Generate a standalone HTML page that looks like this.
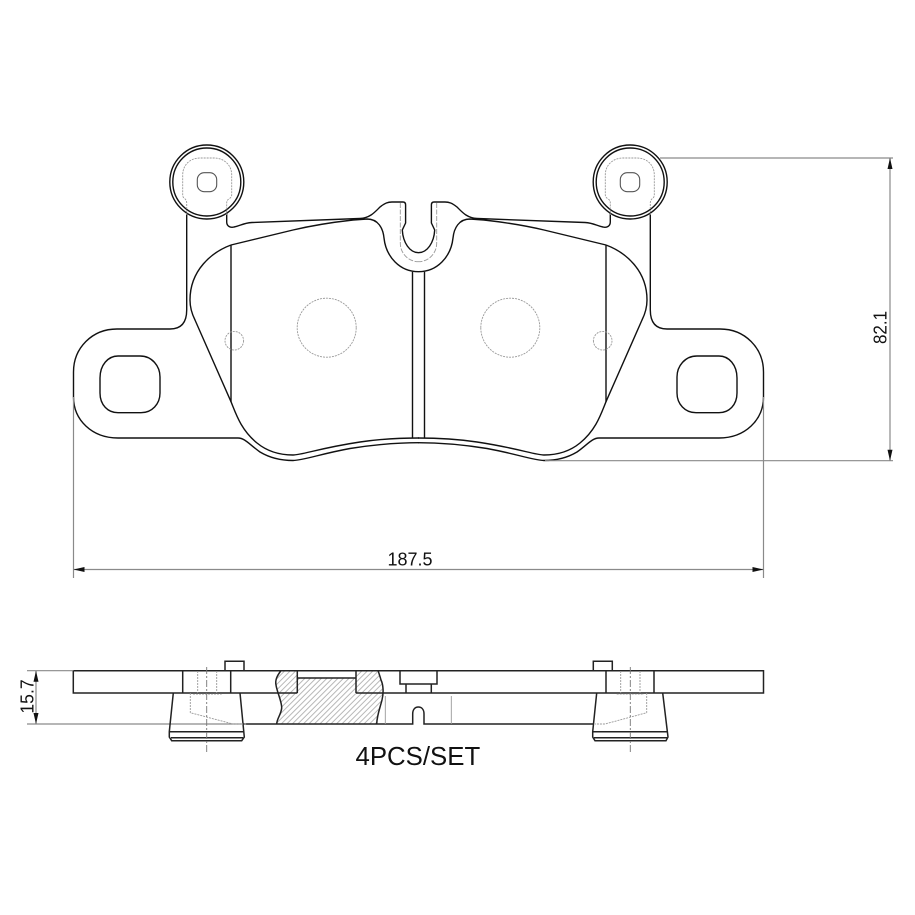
<!DOCTYPE html>
<html><head><meta charset="utf-8"><style>
html,body{margin:0;padding:0;background:#fff;width:915px;height:915px;overflow:hidden}
svg{display:block}
text{font-family:"Liberation Sans",sans-serif;fill:#111}
</style></head><body>
<svg width="915" height="915" viewBox="0 0 915 915" xmlns="http://www.w3.org/2000/svg">
<defs>
<pattern id="ht" width="3.9" height="3.9" patternUnits="userSpaceOnUse" patternTransform="rotate(45)"><line x1="1" y1="0" x2="1" y2="3.9" stroke="#a8a8a8" stroke-width="0.8"/></pattern>
<g id="half" fill="none">
<g stroke="#111" stroke-width="1.4">
<circle cx="206.8" cy="182" r="37"/>
<circle cx="206.8" cy="182" r="34"/>
<path d="M186.7 213V310Q186.7 329 170 329H117C92 329 73.5 348 73.5 372V397C73.5 420 92 438 118 438H238C245 438 250 445 260 452C270 458 282 460.5 293 460.5C305 460 320 454 350 448.5C375 444.5 400 442.7 419 442.7"/>
<path d="M231 245C212 252 190 270 190 300C190 308 192 314 195 320L231 401.7C236 414 241 430 257 443C268 452 280 455 293 455C302 455 320 448 360 442C380 439 400 438 419 438"/>
<path d="M231 245L293 230C310 226 335 222 353 220L367 219C378 219 383 228 384 238C386 257 400 271.7 418.5 271.7"/>
<path d="M226.7 213V222C226.7 226 230 228 234 227C240 226 243 223 252 222.5L360 218.5C370 218 375 212 380 207C385 203 388 202 392 202H403Q405.6 202 405.6 205V223L402.3 230C403 243 410 252.7 418.5 252.7"/>
<path d="M231 245V401.7"/>
<path d="M412.5 271.7V438"/>
<path d="M118 356H140C152 356 160 366 160 377V393C160 404 152 412.7 141 412.7H118C108 412.7 100 405 100 393V378C100 365 108 356 118 356Z"/>
</g>
<rect x="197.3" y="172.7" width="19.4" height="19" rx="7" stroke="#555" stroke-width="1.1"/>
<g stroke="#999" stroke-width="0.9" stroke-dasharray="2 1">
<path d="M186.7 215V203Q186.7 200 184 198Q182.7 197 182.7 195V175C182.7 165 190 158 200 158H214C224 158 231.7 165 231.7 175V195Q231.7 197 229 199Q226.7 200 226.7 203V215"/>
<circle cx="326.7" cy="327.7" r="29.5"/>
<circle cx="234.3" cy="340.7" r="9.3"/>
</g>
<path d="M400.3 203V243C400.3 254 409 261.7 418.5 261.7" stroke="#999" stroke-width="0.9" stroke-dasharray="5 1.5"/>
</g>
</defs>
<rect width="915" height="915" fill="#fff"/>
<use href="#half"/>
<use href="#half" transform="matrix(-1 0 0 1 837 0)"/>

<!-- dimensions -->
<g stroke="#8a8a8a" stroke-width="1.2" fill="none">
<path d="M660 158H893M545 460.7H893M890 158V460.7"/>
<path d="M73.5 397V578M763.5 397V578M73.5 569.5H763.5"/>
<path d="M27 670.7H73M27 724H245M36 670.7V724"/>
</g>
<g fill="#111">
<path d="M890 158l-2.5 11h5zM890 460.7l-2.5-11h5z"/>
<path d="M73.5 569.5l11-2.5v5zM763.5 569.5l-11-2.5v5z"/>
<path d="M36 670.7l-2.5 11h5zM36 724l-2.5-11h5z"/>
</g>
<text x="410" y="565.5" font-size="18" text-anchor="middle">187.5</text>
<text transform="translate(886.5 327.5) rotate(-90) scale(0.92 1)" font-size="18.5" text-anchor="middle">82.1</text>
<text transform="translate(33.5 696.5) rotate(-90) scale(0.95 1)" font-size="18.5" text-anchor="middle">15.7</text>
<text x="355.5" y="765" font-size="25.8">4PCS/SET</text>

<!-- side view -->
<path d="M280.7 671H297.3V678H356V671H378.3C379 674 380 676 381 680C383 684 384 692 382 700C380 708 377 715 376.7 724H276.7C277 718 281 715 281.7 708C282 702 277 692 276 685C275 680 277 676 280.7 671Z" fill="url(#ht)"/>
<g fill="none" stroke="#222" stroke-width="1.5">
<path d="M73.3 670.7H763.5V693H356M297.3 693H73.3V670.7"/>
<path d="M243 724H412.7V714C412.7 709.5 415 707 418.3 707C421.7 707 424 709.5 424 714V724H593"/>
<path d="M182.7 670.7V693M230.7 670.7V693M606 670.7V693M654 670.7V693"/>
<path d="M225 670.7V661.3H244V670.7M593.3 670.7V661.3H612.3V670.7"/>
<path d="M297.3 670.7V693M356 670.7V693M297.3 678H356"/>
<path d="M400 670.7V684H437V670.7M406 684V693M431.3 684V693"/>
<path d="M280.7 671C277 676 275 680 276 685C277 692 282 702 281.7 708C281 715 277 718 276.7 724"/>
<path d="M378.3 671C379 674 380 676 381 680C383 684 384 692 382 700C380 708 377 715 376.7 724"/>
<path d="M173.3 693L169.3 731.7V737L171.7 740.7H241.7L244.3 737L240 693M169.3 731.7H244M171 737.7H243"/>
<path d="M596.7 693L592.7 731.7V737L595 740.7H666L668 737L662.7 693M592.7 731.7H667.7M594 737.7H667"/>
</g>
<g fill="none" stroke="#999" stroke-width="0.9">
<path d="M385.3 696V724M451.3 696V724"/>
<path stroke-dasharray="2 1" d="M197.7 671V693M216.7 671V693M193 694H221.7M190.3 693V712.7L233 724H247"/>
<path stroke-dasharray="2 1" d="M620.7 671V693M640 671V693M616.7 694H644M646.7 693V712.7L605 724H595"/>
<path stroke-dasharray="7 2 2 2" stroke="#777" d="M206.7 667V752M630.3 667V752"/>
</g>
</svg>
</body></html>
